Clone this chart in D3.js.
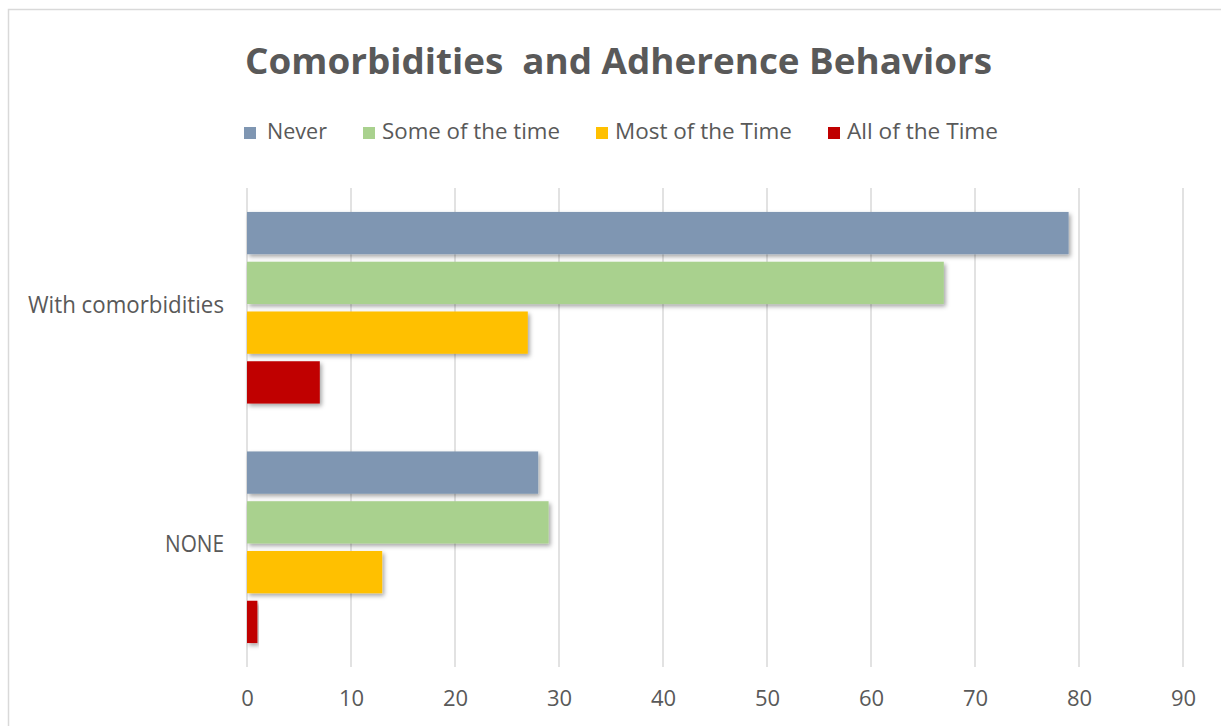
<!DOCTYPE html>
<html>
<head>
<meta charset="utf-8">
<script src="https://cdn.jsdelivr.net/npm/d3@7"></script>
<style>
  body { margin: 0; background: #fff; }
  text { font-family: "Open Sans", "DejaVu Sans", sans-serif; fill: #595959; }
</style>
</head>
<body>
<div id="chart"></div>
<script>
const categories = ["With comorbidities", "NONE"];
const seriesNames = ["Never", "Some of the time", "Most of the Time", "All of the Time"];
const never = [79, 28];
const someOfTheTime = [67, 29];
const mostOfTheTime = [27, 13];
const allOfTheTime = [7, 1];
const xTicks = [0, 10, 20, 30, 40, 50, 60, 70, 80, 90];

const colors = ["#7f96b2", "#a9d18e", "#ffc000", "#c00000"];
const seriesValues = [never, someOfTheTime, mostOfTheTime, allOfTheTime];

const W = 1221, H = 726;
const plot = { left: 247, right: 1183, top: 188, bottom: 667 };

const svg = d3.select("#chart").append("svg")
  .attr("width", W)
  .attr("height", H);

svg.append("rect").attr("width", W).attr("height", H).attr("fill", "#fff");

// chart frame, runs off the right and bottom of the picture
svg.append("rect")
  .attr("x", 8.5).attr("y", 9.5)
  .attr("width", 1240).attr("height", 740)
  .attr("fill", "none")
  .attr("stroke", "#d9d9d9")
  .attr("stroke-width", 1.5);

const defs = svg.append("defs");
defs.append("filter")
  .attr("id", "shadow")
  .attr("x", "-5%").attr("y", "-20%")
  .attr("width", "115%").attr("height", "160%")
  .append("feDropShadow")
  .attr("dx", 2).attr("dy", 2.5)
  .attr("stdDeviation", 2)
  .attr("flood-color", "#000")
  .attr("flood-opacity", 0.35);

// title
svg.append("text")
  .attr("x", 245).attr("y", 74)
  .attr("font-size", 36)
  .attr("font-weight", 700)
  .attr("textLength", 747)
  .attr("lengthAdjust", "spacingAndGlyphs")
  .style("white-space", "pre")
  .text("Comorbidities  and Adherence Behaviors");

// legend
const legendX = [244, 363, 596, 828];
const legendW = [60, 178, 177, 151];
const legend = svg.append("g").selectAll("g")
  .data(seriesNames)
  .enter().append("g")
  .attr("transform", (d, i) => "translate(" + legendX[i] + ",127)");
legend.append("rect")
  .attr("width", 12).attr("height", 12)
  .attr("fill", (d, i) => colors[i]);
legend.append("text")
  .attr("x", (d, i) => i === 0 ? 23 : 19)
  .attr("y", 12)
  .attr("font-size", 21)
  .attr("textLength", (d, i) => legendW[i])
  .attr("lengthAdjust", "spacingAndGlyphs")
  .text(d => d);

const x = d3.scaleLinear()
  .domain([0, 90])
  .range([plot.left, plot.right]);

const y = d3.scaleBand()
  .domain(categories)
  .range([plot.top, plot.bottom])
  .paddingInner(0.2)
  .paddingOuter(0.1);

const ySub = d3.scaleBand()
  .domain(d3.range(seriesNames.length))
  .range([0, y.bandwidth()])
  .paddingInner(0.15);

// gridlines
svg.append("g").selectAll("line")
  .data(xTicks)
  .enter().append("line")
  .attr("x1", d => x(d)).attr("x2", d => x(d))
  .attr("y1", plot.top).attr("y2", plot.bottom)
  .attr("stroke", "#d9d9d9")
  .attr("stroke-width", 1.5);

// x tick labels
const xAxis = d3.axisBottom(x).tickValues(xTicks).tickSize(0).tickPadding(0);
const xg = svg.append("g")
  .attr("transform", "translate(0," + plot.bottom + ")")
  .call(xAxis);
xg.select(".domain").remove();
xg.selectAll("text")
  .attr("y", 39)
  .attr("dy", null)
  .attr("font-size", 22)
  .attr("fill", "#595959");

// category labels
const yLabelW = { "With comorbidities": 196, "NONE": 59 };
svg.append("g").selectAll("text")
  .data(categories)
  .enter().append("text")
  .attr("x", 224)
  .attr("y", d => y(d) + y.bandwidth() / 2 + 5)
  .attr("text-anchor", "end")
  .attr("font-size", 23)
  .attr("textLength", d => yLabelW[d])
  .attr("lengthAdjust", "spacingAndGlyphs")
  .text(d => d);

// bars
const groups = svg.append("g").selectAll("g")
  .data(categories)
  .enter().append("g")
  .attr("transform", d => "translate(0," + y(d) + ")");

groups.selectAll("rect")
  .data((d, ci) => seriesValues.map((vals, si) => ({ si: si, value: vals[ci] })))
  .enter().append("rect")
  .attr("x", x(0))
  .attr("y", d => ySub(d.si))
  .attr("width", d => x(d.value) - x(0))
  .attr("height", ySub.bandwidth())
  .attr("fill", d => colors[d.si])
  .attr("filter", "url(#shadow)");
</script>
</body>
</html>
